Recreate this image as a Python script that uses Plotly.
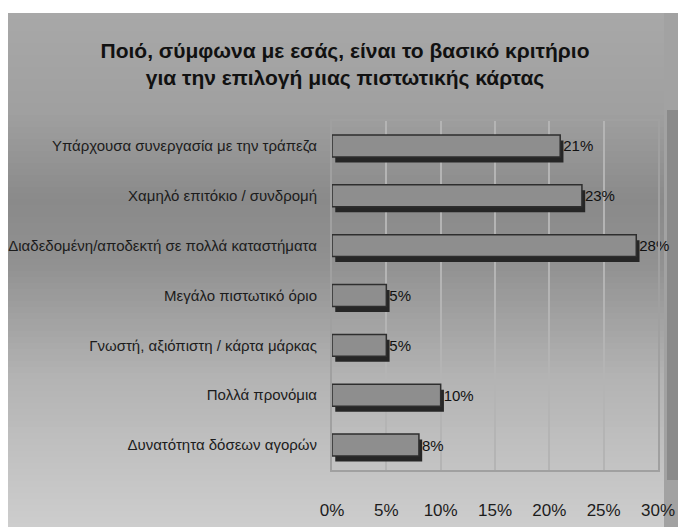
import plotly.graph_objects as go

categories = [
    "Υπάρχουσα συνεργασία με την τράπεζα",
    "Χαμηλό επιτόκιο / συνδρομή",
    "Διαδεδομένη/αποδεκτή σε πολλά καταστήματα",
    "Μεγάλο πιστωτικό όριο",
    "Γνωστή, αξιόπιστη / κάρτα μάρκας",
    "Πολλά προνόμια",
    "Δυνατότητα δόσεων αγορών",
]
values = [21, 23, 28, 5, 5, 10, 8]
x_ticks = [0, 5, 10, 15, 20, 25, 30]
x_tick_labels = ["0%", "5%", "10%", "15%", "20%", "25%", "30%"]
title_text = "Ποιό, σύμφωνα με εσάς, είναι το βασικό κριτήριο<br>για την επιλογή μιας πιστωτικής κάρτας"

W, H = 678, 527
PX0, PX1, PY0, PY1 = 332, 658, 121, 470  # plot area in window pixels
L, R, T, B = PX0, W - PX1, PY0, H - PY1
pw, ph = PX1 - PX0, PY1 - PY0

def px_x(p):
    return (p - PX0) / pw

def px_y(p):
    return (PY1 - p) / ph

fig = go.Figure()

fig.add_trace(go.Bar(
    y=categories, x=values, base=0.3, orientation="h",
    width=0.44, offset=-0.11,
    marker=dict(color="#262626", line=dict(width=0)),
    hoverinfo="skip", showlegend=False,
))
fig.add_trace(go.Bar(
    y=categories, x=values, orientation="h",
    width=0.44, offset=-0.22,
    marker=dict(color="#8e8e8e", line=dict(color="#2e2e2e", width=1.5)),
    text=[f"{v}%" for v in values], textposition="outside",
    textfont=dict(family="Arial", size=15, color="#111111"),
    cliponaxis=False, showlegend=False,
))

def mix(c1, c2, t):
    return "#%02x%02x%02x" % tuple(int(round(a + (b - a) * t)) for a, b in zip(c1, c2))

stops = [(13, (168, 168, 168)), (110, (160, 160, 160)), (200, (138, 138, 138)),
         (260, (144, 144, 144)), (380, (180, 180, 180)), (527, (205, 205, 205))]
shapes = []
step = 6
y = 13
while y < 527:
    yc = y + step / 2
    for (a, ca), (b, cb) in zip(stops[:-1], stops[1:]):
        if a <= yc <= b:
            col = mix(ca, cb, (yc - a) / (b - a))
            break
    shapes.append(dict(type="rect", xref="paper", yref="paper", layer="below",
                       x0=px_x(8), x1=px_x(664), y0=px_y(min(y + step + 1, 527)), y1=px_y(y),
                       fillcolor=col, line=dict(width=0)))
    y += step
shapes.append(dict(type="rect", xref="paper", yref="paper", layer="below",
                   x0=px_x(664), x1=px_x(678), y0=px_y(527), y1=px_y(13),
                   fillcolor="#a2a2a2", line=dict(width=0)))
shapes.append(dict(type="rect", xref="paper", yref="paper", layer="below",
                   x0=px_x(667), x1=px_x(678), y0=px_y(480), y1=px_y(110),
                   fillcolor="#8a8a8a", line=dict(width=0)))
fig.update_layout(shapes=shapes)

fig.update_layout(
    width=W, height=H,
    autosize=False,
    margin=dict(l=L, r=R, t=T, b=B, pad=0, autoexpand=False),
    paper_bgcolor="#ffffff",
    plot_bgcolor="#d3d3d3",
    barmode="overlay",
    title=dict(text=title_text, x=345 / W, xref="container", xanchor="center",
               y=1 - 58 / H, yanchor="middle", automargin=False,
               font=dict(family="Arial", size=21, color="#111111", weight="bold")),
    font=dict(family="Arial", color="#1a1a1a"),
    xaxis=dict(range=[0, 30], tickvals=x_ticks, ticktext=x_tick_labels,
               automargin=False,
               showgrid=True, gridcolor="#b4b4b4", gridwidth=2,
               zeroline=False, showline=True, linecolor="#a0a0a0", linewidth=2,
               mirror=True, ticks="", ticklabelstandoff=24,
               tickfont=dict(family="Arial", size=17, color="#1c1c1c")),
    yaxis=dict(autorange="reversed", automargin=False,
               showgrid=False, zeroline=False,
               showline=True, linecolor="#a0a0a0", linewidth=2, mirror=True,
               ticks="", ticklabelstandoff=10,
               tickfont=dict(family="Arial", size=15, color="#1c1c1c")),
)

fig.write_html("out.html", config={"displayModeBar": False}, post_script=(
    "document.body.style.margin='0';"
    "document.documentElement.style.overflow='hidden';"
    "document.body.style.overflow='hidden';"))
